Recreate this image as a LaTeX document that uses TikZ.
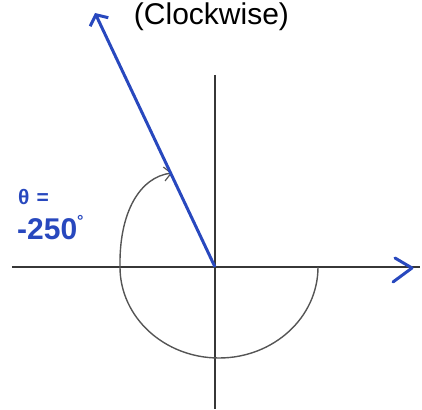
\documentclass[tikz,border=0pt]{standalone}
\usepackage{fontspec}
\setmainfont{Liberation Sans}
\usetikzlibrary{arrows.meta}
\definecolor{penblue}{RGB}{40,72,190}
\definecolor{axisgray}{RGB}{55,55,55}
\tikzset{
  axisline/.style={draw=axisgray, line width=1.6pt},
  rayline/.style={draw=penblue, line width=3pt},
  arcline/.style={draw=axisgray!85, line width=1.4pt},
  handlabel/.style={text=penblue, inner sep=0pt, anchor=base west},
}
\begin{document}
\begin{tikzpicture}[x=1pt,y=1pt]
\useasboundingbox (-215,-142) rectangle (207,267);
% axes
\coordinate (O) at (0,0);
\coordinate (Xl) at (-203,0);
\coordinate (Xr) at (205,0);
\coordinate (Yt) at (0,192);
\coordinate (Yb) at (0,-142);
\draw[axisline] (Xl) -- (Xr);
\draw[axisline] (Yt) -- (Yb);
% x-axis arrow chevron
\coordinate (Ca) at (180,9);
\coordinate (Cb) at (197,-1);
\coordinate (Cc) at (178,-15);
\draw[penblue, line width=3pt, line cap=round, line join=round] (Ca) -- (Cb) -- (Cc);
% angle arc
\coordinate (Ar) at (103,0);
\coordinate (Ae) at (-43,94);
\draw[arcline, -{Straight Barb[length=7pt,width=14pt,line width=1.2pt]}]
  (Ar) arc[start angle=0, end angle=-180, x radius=99, y radius=91]
  .. controls (-96,55) and (-75,90) .. (Ae);
% terminal ray
\coordinate (P) at (-120,254);
\draw[rayline, -{Straight Barb[length=8pt,width=20pt,line width=3pt]}] (O) -- (P);
% texts
\node[anchor=base, font=\fontsize{30}{32}\selectfont, inner sep=0pt] (title) at (-3.5,242) {(Clockwise)};
\node[handlabel, font=\fontsize{21}{24}\selectfont\bfseries] (theta) at (-197,62) {θ\,\,=};
\node[handlabel, font=\fontsize{30}{32}\selectfont\bfseries] (val) at (-198,27) {-250\raisebox{14pt}{\fontsize{16}{16}\selectfont°}};
\end{tikzpicture}
\end{document}
